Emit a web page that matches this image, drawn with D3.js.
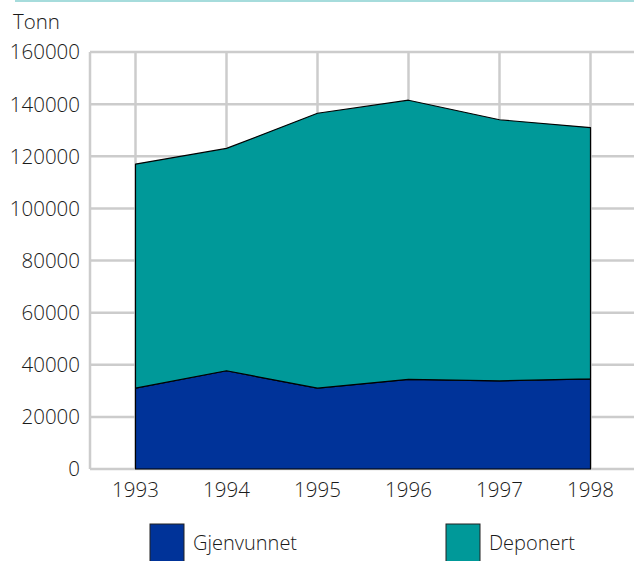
<!DOCTYPE html>
<html>
<head>
<meta charset="utf-8">
<script src="https://cdn.jsdelivr.net/npm/d3@7.9.0/dist/d3.min.js"></script>
<style>
  body { margin: 0; background: #fff; }
  svg { display: block; font-family: "Open Sans", "Noto Sans", sans-serif; font-weight: 300; }
</style>
</head>
<body>
<svg width="634" height="561"></svg>
<script>
const years = [1993, 1994, 1995, 1996, 1997, 1998];
const gjenvunnet = [31000, 37700, 31000, 34400, 33800, 34600];
const deponert = [86000, 85300, 105500, 107100, 100200, 96400];
const yTicks = [0, 20000, 40000, 60000, 80000, 100000, 120000, 140000, 160000];
const seriesNames = ['Gjenvunnet', 'Deponert'];
const colors = ['#003399', '#009999'];

const svg = d3.select('svg');
const plotLeft = 90, plotRight = 636, plotTop = 52, plotBottom = 469;

const x = d3.scaleLinear().domain([1992.5, 1998.5]).range([plotLeft, plotRight]);
const y = d3.scaleLinear().domain([0, 160000]).range([plotBottom, plotTop]);

// top rule
svg.append('line').attr('x1', 15).attr('x2', 634).attr('y1', 1).attr('y2', 1)
  .attr('stroke', '#a6dcdc').attr('stroke-width', 2);

// grid
svg.append('g').selectAll('line').data(yTicks).join('line')
  .attr('x1', plotLeft).attr('x2', 634)
  .attr('y1', d => y(d)).attr('y2', d => y(d))
  .attr('stroke', '#cccccc').attr('stroke-width', 2.5);
svg.append('g').selectAll('line').data([1992.5].concat(years)).join('line')
  .attr('x1', d => x(d)).attr('x2', d => x(d))
  .attr('y1', plotTop).attr('y2', plotBottom)
  .attr('stroke', '#cccccc').attr('stroke-width', 2.5);

// stacked areas
const rows = years.map((yr, i) => ({ year: yr, Gjenvunnet: gjenvunnet[i], Deponert: deponert[i] }));
const stack = d3.stack().keys(seriesNames)(rows);
const area = d3.area()
  .x(d => x(d.data.year))
  .y0(d => y(d[0]))
  .y1(d => y(d[1]));

svg.append('g').selectAll('path').data(stack).join('path')
  .attr('d', area)
  .attr('fill', (d, i) => colors[i])
  .attr('stroke', '#000')
  .attr('stroke-width', 1.2)
  .attr('stroke-linejoin', 'round');

// axes labels
svg.append('g').selectAll('text').data(yTicks).join('text')
  .attr('x', 80).attr('y', d => y(d)).attr('dy', '0.36em')
  .attr('text-anchor', 'end').attr('font-size', 20.5).attr('fill', '#1a1a1a')
  .text(d => d);

svg.append('g').selectAll('text').data(years).join('text')
  .attr('x', d => x(d)).attr('y', 497)
  .attr('text-anchor', 'middle').attr('font-size', 20.5).attr('fill', '#1a1a1a')
  .text(d => d);

svg.append('text').attr('x', 13).attr('y', 29)
  .attr('font-size', 20.5).attr('fill', '#1a1a1a').text('Tonn');

// legend
const legendX = [150, 446];
const lg = svg.append('g').selectAll('g').data(seriesNames).join('g')
  .attr('transform', (d, i) => `translate(${legendX[i]},524)`);
lg.append('rect').attr('width', 34).attr('height', 40)
  .attr('fill', (d, i) => colors[i]).attr('stroke', '#222').attr('stroke-width', 1);
lg.append('text').attr('x', 43).attr('y', 26)
  .attr('font-size', 20).attr('fill', '#1a1a1a').text(d => d);
</script>
</body>
</html>
